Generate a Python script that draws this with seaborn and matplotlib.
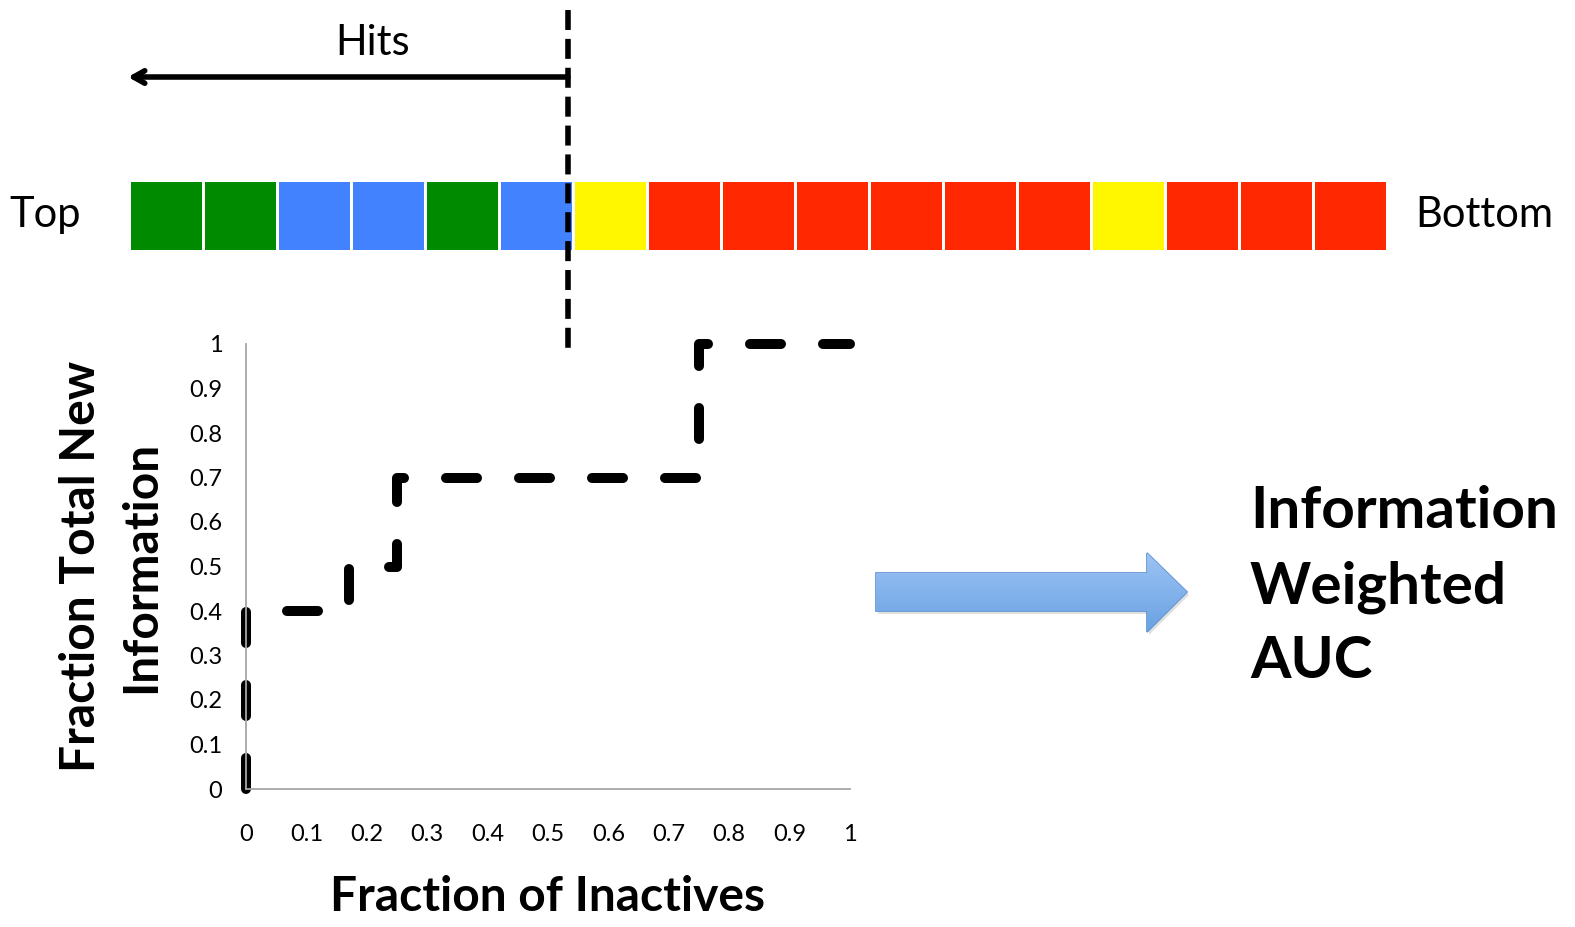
import numpy as np
import matplotlib
matplotlib.use("Agg")
import matplotlib.pyplot as plt
from matplotlib.colors import ListedColormap, LinearSegmentedColormap
from matplotlib.patches import Polygon
import seaborn as sns

# ranked list of compounds, top to bottom
ranking = ["G", "G", "B", "B", "G", "B", "Y", "R", "R", "R", "R", "R", "R", "Y", "R", "R", "R"]
palette = {"G": "#008a00", "B": "#4282ff", "Y": "#fff700", "R": "#ff2800"}

# step curve (steps-post)
frac_inactives = [0, 0, 0.17, 0.25, 0.75, 1.0]
frac_info = [0, 0.4, 0.5, 0.7, 1.0, 1.0]

ticks = [0, 0.1, 0.2, 0.3, 0.4, 0.5, 0.6, 0.7, 0.8, 0.9, 1]
tick_labels = ["0", "0.1", "0.2", "0.3", "0.4", "0.5", "0.6", "0.7", "0.8", "0.9", "1"]

sns.set_style("white")
plt.rcParams["font.family"] = ["Lato", "DejaVu Sans"]
plt.rcParams["text.color"] = "black"
plt.rcParams["axes.labelcolor"] = "black"

W, H = 1575, 927
fig = plt.figure(figsize=(W / 100, H / 100), dpi=100)

# row of squares
codes = list(palette.keys())
vals = np.array([[codes.index(c) for c in ranking]])
ax_bar = fig.add_axes([129 / W, 1 - 251 / H, (1387 - 129) / W, 71 / H])
sns.heatmap(vals, ax=ax_bar, cmap=ListedColormap([palette[c] for c in codes]),
            vmin=-0.5, vmax=len(codes) - 0.5, cbar=False, linewidths=2,
            linecolor="white", xticklabels=False, yticklabels=False)

# step plot
ax = fig.add_axes([246 / W, 1 - 789 / H, 604 / W, 445 / H])
sns.lineplot(x=frac_inactives, y=frac_info, ax=ax, sort=False, estimator=None,
             color="black", lw=7.2, drawstyle="steps-post",
             ls=(0, (3.1, 4.2)), dash_capstyle="round", clip_on=False)
ax.set_xlim(0, 1)
ax.set_ylim(0, 1)
ax.set_xticks(ticks)
ax.set_xticklabels(tick_labels)
ax.set_yticks(ticks)
ax.set_yticklabels(tick_labels)
sns.despine(ax=ax)
for s in ["left", "bottom"]:
    ax.spines[s].set_color("#a6a6a6")
    ax.spines[s].set_linewidth(1.3)
ax.tick_params(axis="x", direction="out", length=6, width=1.3, color="#a6a6a6",
               labelcolor="black", labelsize=17, pad=19)
ax.tick_params(axis="y", direction="out", length=4, width=1.3, color="#a6a6a6",
               labelcolor="black", labelsize=17, pad=13)
ax.set_xlabel("Fraction of Inactives", fontsize=34.5, fontweight="bold")
ax.xaxis.set_label_coords(0.5, -0.243)
ax.xaxis.label.set_va("center")
ax.set_ylabel("Fraction Total New\nInformation", fontsize=34.5, fontweight="bold",
              linespacing=1.45)
ax.yaxis.set_label_coords(-0.224, 0.5)
ax.yaxis.label.set_va("center")
ax.patch.set_alpha(0)

# overlay for annotations in pixel coords
ov = fig.add_axes([0, 0, 1, 1], zorder=5)
ov.set_xlim(0, W)
ov.set_ylim(H, 0)
ov.axis("off")
ov.patch.set_alpha(0)

ov.plot([568, 568], [10, 356], color="black", lw=4, ls=(0, (3.6, 1.6)))
ov.annotate("", xy=(128, 77), xytext=(568, 77),
            arrowprops=dict(arrowstyle="->,head_length=0.8,head_width=0.45",
                            lw=4, color="black", shrinkA=0, shrinkB=0,
                            capstyle="round", joinstyle="round"))
ov.text(373, 43, "Hits", fontsize=30, ha="center", va="center")
ov.text(45, 215, "Top", fontsize=30, ha="center", va="center")
ov.text(1484, 215, "Bottom", fontsize=30, ha="center", va="center")

# blue arrow with gradient
pts = [(876, 573), (1147, 573), (1147, 553), (1187, 592), (1147, 632),
       (1147, 611), (876, 611)]
shadow = Polygon([(x + 2, y + 3) for x, y in pts], closed=True,
                 facecolor="#000000", alpha=0.12, edgecolor="none")
ov.add_patch(shadow)
arrow = Polygon(pts, closed=True, facecolor="none", edgecolor="#5b8fcf", lw=1.2)
ov.add_patch(arrow)
grad = np.linspace(0, 1, 100).reshape(-1, 1)
blue_grad = LinearSegmentedColormap.from_list("b", ["#9cc3f4", "#6aa2e2"])
img = ov.imshow(grad, extent=(876, 1187, 632, 553), aspect="auto",
                cmap=blue_grad, origin="upper", zorder=1)
img.set_clip_path(arrow)

for txt, y in zip(["Information", "Weighted", "AUC"], [512, 587, 662]):
    ov.text(1250, y, txt, fontsize=42, fontweight="bold", va="center")

fig.savefig("out.png", dpi=100)
